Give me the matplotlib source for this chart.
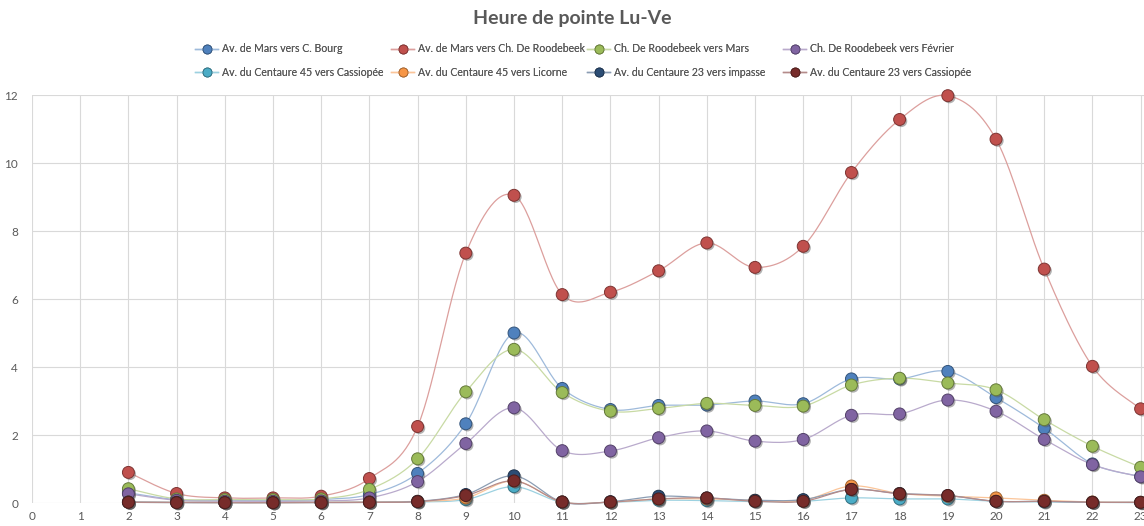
import matplotlib
matplotlib.use("Agg")
import matplotlib.pyplot as plt
import matplotlib.patheffects as pe
from matplotlib.lines import Line2D
import numpy as np

# heures (x) et series de comptage
heures = list(range(2, 24))

mars_bourg = [0.30, 0.10, 0.08, 0.07, 0.10, 0.25, 0.87, 2.33, 5.00, 3.37, 2.75, 2.87, 2.88, 3.00, 2.92, 3.65, 3.65, 3.87, 3.10, 2.20, 1.15, 0.78]
mars_roodebeek = [0.90, 0.28, 0.15, 0.15, 0.20, 0.72, 2.25, 7.35, 9.05, 6.13, 6.20, 6.83, 7.65, 6.93, 7.55, 9.72, 11.28, 11.98, 10.70, 6.88, 4.02, 2.77]
roodebeek_mars = [0.42, 0.12, 0.10, 0.10, 0.12, 0.40, 1.30, 3.27, 4.52, 3.25, 2.70, 2.78, 2.93, 2.87, 2.85, 3.47, 3.67, 3.53, 3.33, 2.45, 1.67, 1.05]
roodebeek_fevrier = [0.27, 0.08, 0.05, 0.05, 0.06, 0.15, 0.63, 1.75, 2.80, 1.54, 1.53, 1.92, 2.12, 1.82, 1.87, 2.58, 2.62, 3.03, 2.70, 1.87, 1.13, 0.77]
c45_cassiopee = [0.02, 0.01, 0.01, 0.01, 0.01, 0.02, 0.03, 0.10, 0.48, 0.02, 0.02, 0.08, 0.07, 0.04, 0.05, 0.15, 0.12, 0.12, 0.05, 0.03, 0.02, 0.01]
c45_licorne = [0.03, 0.02, 0.01, 0.01, 0.02, 0.03, 0.05, 0.15, 0.65, 0.03, 0.03, 0.12, 0.12, 0.08, 0.08, 0.50, 0.28, 0.20, 0.15, 0.08, 0.03, 0.02]
c23_impasse = [0.03, 0.02, 0.01, 0.01, 0.02, 0.03, 0.05, 0.25, 0.80, 0.03, 0.04, 0.20, 0.15, 0.08, 0.10, 0.40, 0.28, 0.22, 0.05, 0.05, 0.02, 0.02]
c23_cassiopee = [0.02, 0.01, 0.01, 0.01, 0.01, 0.02, 0.04, 0.22, 0.65, 0.03, 0.03, 0.12, 0.15, 0.05, 0.05, 0.40, 0.27, 0.22, 0.05, 0.05, 0.02, 0.02]

noms = ["Av. de Mars vers C. Bourg", "Av. de Mars vers Ch. De Roodebeek",
        "Ch. De Roodebeek vers Mars", "Ch. De Roodebeek vers Février",
        "Av. du Centaure 45 vers Cassiopée", "Av. du Centaure 45 vers Licorne",
        "Av. du Centaure 23 vers impasse", "Av. du Centaure 23 vers Cassiopée"]
series = [mars_bourg, mars_roodebeek, roodebeek_mars, roodebeek_fevrier,
          c45_cassiopee, c45_licorne, c23_impasse, c23_cassiopee]
couleurs = ["#4F81BD", "#C0504D", "#9BBB59", "#8064A2",
            "#4BACC6", "#F79646", "#2C4D75", "#772C2A"]


def lisser(x, y, n=30):
    # courbe lissee type tableur (Bezier / Catmull-Rom)
    x = np.asarray(x, float)
    y = np.asarray(y, float)
    px = np.concatenate([[x[0]], x, [x[-1]]])
    py = np.concatenate([[y[0]], y, [y[-1]]])
    xs, ys = [], []
    t = np.linspace(0, 1, n)
    for i in range(1, len(px) - 2):
        p0 = np.array([px[i], py[i]])
        p3 = np.array([px[i + 1], py[i + 1]])
        p1 = p0 + (p3 - np.array([px[i - 1], py[i - 1]])) / 6
        p2 = p3 - (np.array([px[i + 2], py[i + 2]]) - p0) / 6
        b = ((1 - t) ** 3)[:, None] * p0 + (3 * (1 - t) ** 2 * t)[:, None] * p1 \
            + (3 * (1 - t) * t ** 2)[:, None] * p2 + (t ** 3)[:, None] * p3
        xs.append(b[:, 0])
        ys.append(b[:, 1])
    return np.concatenate(xs), np.concatenate(ys)


def eclaircir(c, f=0.45):
    r, g, b = matplotlib.colors.to_rgb(c)
    return (r + (1 - r) * f, g + (1 - g) * f, b + (1 - b) * f)


def assombrir(c, f=0.35):
    r, g, b = matplotlib.colors.to_rgb(c)
    return (r * (1 - f), g * (1 - f), b * (1 - f))


fig = plt.figure(figsize=(11.44, 5.26), dpi=100)
ax = fig.add_axes([32 / 1144, 23 / 526, 1 - 32 / 1144, 408 / 526])

ombre = [pe.SimplePatchShadow(offset=(1.2, -1.2), shadow_rgbFace="#555555", alpha=0.45), pe.Normal()]
for y, c in zip(series, couleurs):
    sx, sy = lisser(heures, y)
    ax.plot(sx, sy, color=eclaircir(c), lw=0.9, zorder=3, clip_on=False)
for y, c in zip(series, couleurs):
    ax.plot(heures, y, ls="none", marker="o", ms=8.6, mfc=c, mec=assombrir(c),
            mew=0.7, zorder=4, clip_on=False, path_effects=ombre)

ax.set_xlim(0, 23.07)
ax.set_ylim(0, 12)
ax.set_xticks(range(0, 24))
ax.set_yticks(range(0, 13, 2))
ax.grid(True, color="#D9D9D9", lw=0.8)
ax.set_axisbelow(True)
for s in ax.spines.values():
    s.set_visible(False)
ax.tick_params(length=0, colors="#595959", labelsize=8.5, pad=6)
ax.tick_params(axis="y", pad=10)
for lab in ax.get_xticklabels() + ax.get_yticklabels():
    lab.set_fontfamily("Lato")

fig.text(0.5, 0.965, "Heure de pointe Lu-Ve", ha="center", va="center",
         fontsize=14, fontweight="bold", color="#595959", family="Lato")

# legende : 2 rangees de 4 colonnes de largeur fixe
for k, (nom, c) in enumerate(zip(noms, couleurs)):
    rang, col = divmod(k, 4)
    h = Line2D([], [], color=eclaircir(c), lw=1, marker="o", ms=6.5, mfc=c,
               mec=assombrir(c), mew=0.6)
    leg = fig.legend([h], [nom], loc="center left",
                     bbox_to_anchor=((195 + 196 * col) / 1144, 1 - (49 + 23 * rang) / 526),
                     frameon=False, borderpad=0, borderaxespad=0,
                     prop={"family": "Lato", "size": 7.6}, handlelength=2.2,
                     handletextpad=0.35, labelcolor="#595959")
    fig.add_artist(leg)

fig.savefig("out.png", dpi=100)
